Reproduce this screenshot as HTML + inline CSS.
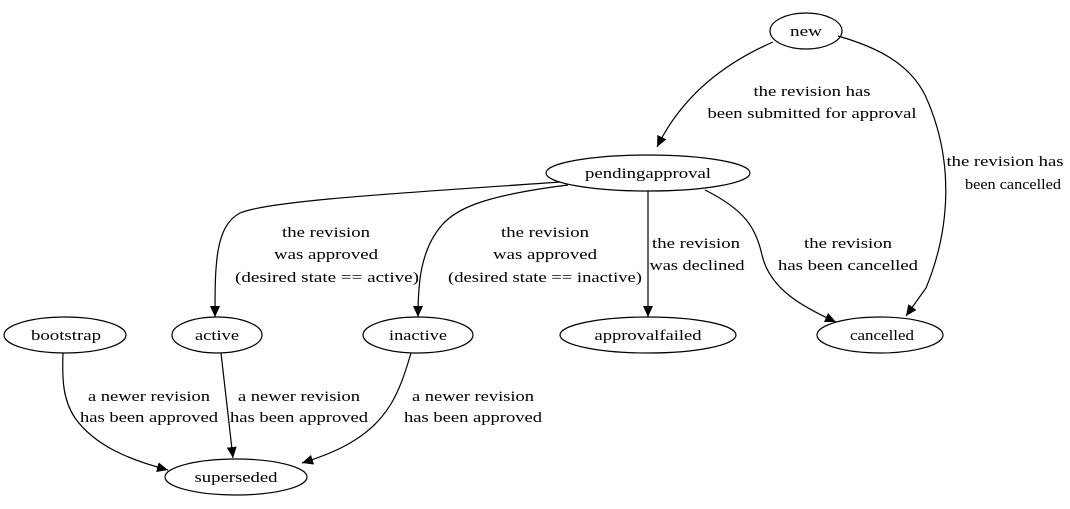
<!DOCTYPE html>
<html><head><meta charset="utf-8"><style>
html,body{margin:0;padding:0;background:#fff}
text{font-family:"Liberation Serif","DejaVu Serif",serif;font-size:15px;fill:#000;text-anchor:middle}
</style></head><body>
<svg width="1070" height="504" viewBox="0 0 1070 504" xmlns="http://www.w3.org/2000/svg">
<defs><marker id="a" markerWidth="11" markerHeight="10" refX="11" refY="5" orient="auto" markerUnits="userSpaceOnUse"><path d="M0,0 L11,5 L0,10 z" fill="#000"/></marker></defs>
<g fill="none" stroke="#000" stroke-width="1.2">
<ellipse cx="806" cy="31" rx="36" ry="18"/>
<ellipse cx="648" cy="173" rx="102" ry="18"/>
<ellipse cx="65" cy="335" rx="61" ry="18"/>
<ellipse cx="217" cy="335" rx="45" ry="18"/>
<ellipse cx="418" cy="335" rx="55" ry="18"/>
<ellipse cx="648" cy="335" rx="88" ry="18"/>
<ellipse cx="880" cy="335" rx="63" ry="18"/>
<ellipse cx="236" cy="477" rx="71" ry="18"/>
<g marker-end="url(#a)">
<path d="M773,42 C720,65 680,100 657,147"/>
<path d="M838,36 C880,48 910,65 925,95 C955,160 950,230 926,288 L906,316"/>
<path d="M560,182 C420,192 270,200 240,213 C215,226 215,265 215,317"/>
<path d="M568,185 C480,196 455,210 442,225 C420,250 418,285 418,317"/>
<path d="M648,191 L648,317"/>
<path d="M705,190 C745,210 756,228 762,255 C770,290 805,308 836,322"/>
<path d="M63,353 C62,380 63,400 75,418 C95,446 130,460 168,470"/>
<path d="M221,353 L233,458"/>
<path d="M411,353 C400,390 390,420 350,443 C335,452 318,458 302,463"/>
</g></g>
<g>
<text x="806" y="36" textLength="32" lengthAdjust="spacingAndGlyphs">new</text>
<text x="648" y="178" textLength="126" lengthAdjust="spacingAndGlyphs">pendingapproval</text>
<text x="66" y="340" textLength="70" lengthAdjust="spacingAndGlyphs">bootstrap</text>
<text x="217" y="340" textLength="44" lengthAdjust="spacingAndGlyphs">active</text>
<text x="418" y="340" textLength="58" lengthAdjust="spacingAndGlyphs">inactive</text>
<text x="648" y="340" textLength="107" lengthAdjust="spacingAndGlyphs">approvalfailed</text>
<text x="882" y="340" textLength="64" lengthAdjust="spacingAndGlyphs">cancelled</text>
<text x="236" y="482" textLength="83" lengthAdjust="spacingAndGlyphs">superseded</text>
<text x="812" y="96" textLength="117" lengthAdjust="spacingAndGlyphs">the revision has</text>
<text x="812" y="118" textLength="209" lengthAdjust="spacingAndGlyphs">been submitted for approval</text>
<text x="1005" y="166" textLength="117" lengthAdjust="spacingAndGlyphs">the revision has</text>
<text x="1013" y="189" textLength="96" lengthAdjust="spacingAndGlyphs">been cancelled</text>
<text x="326" y="237" textLength="88" lengthAdjust="spacingAndGlyphs">the revision</text>
<text x="326" y="259" textLength="104" lengthAdjust="spacingAndGlyphs">was approved</text>
<text x="327" y="282" textLength="184" lengthAdjust="spacingAndGlyphs">(desired state == active)</text>
<text x="545" y="237" textLength="88" lengthAdjust="spacingAndGlyphs">the revision</text>
<text x="545" y="259" textLength="104" lengthAdjust="spacingAndGlyphs">was approved</text>
<text x="545" y="282" textLength="194" lengthAdjust="spacingAndGlyphs">(desired state == inactive)</text>
<text x="696" y="248" textLength="88" lengthAdjust="spacingAndGlyphs">the revision</text>
<text x="697" y="270" textLength="95" lengthAdjust="spacingAndGlyphs">was declined</text>
<text x="848" y="248" textLength="88" lengthAdjust="spacingAndGlyphs">the revision</text>
<text x="848" y="270" textLength="140" lengthAdjust="spacingAndGlyphs">has been cancelled</text>
<text x="149" y="401" textLength="122" lengthAdjust="spacingAndGlyphs">a newer revision</text>
<text x="149" y="422" textLength="138" lengthAdjust="spacingAndGlyphs">has been approved</text>
<text x="299" y="401" textLength="122" lengthAdjust="spacingAndGlyphs">a newer revision</text>
<text x="299" y="422" textLength="138" lengthAdjust="spacingAndGlyphs">has been approved</text>
<text x="473" y="401" textLength="122" lengthAdjust="spacingAndGlyphs">a newer revision</text>
<text x="473" y="422" textLength="138" lengthAdjust="spacingAndGlyphs">has been approved</text>
</g>
</svg>
</body></html>
